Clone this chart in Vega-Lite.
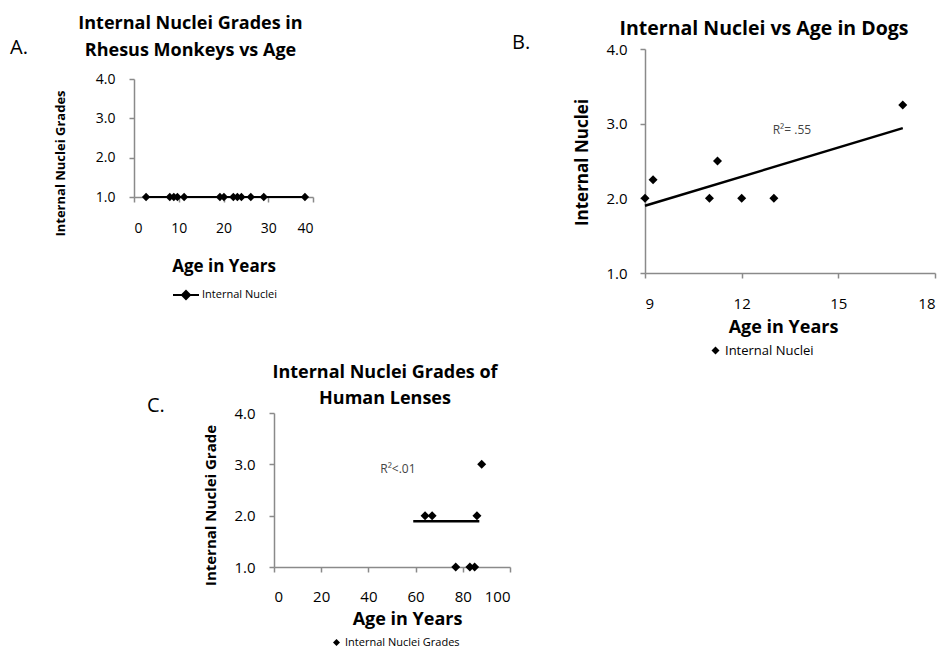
{
  "$schema": "https://vega.github.io/schema/vega-lite/v6.json",
  "background": "white",
  "padding": {"left": 10, "top": 15, "right": 5, "bottom": 0},
  "datasets": {
    "monkeys": [
      {"age": 2.7, "grade": 1, "series": "Internal Nuclei"},
      {"age": 8.0, "grade": 1, "series": "Internal Nuclei"},
      {"age": 8.9, "grade": 1, "series": "Internal Nuclei"},
      {"age": 9.7, "grade": 1, "series": "Internal Nuclei"},
      {"age": 11.2, "grade": 1, "series": "Internal Nuclei"},
      {"age": 19.2, "grade": 1, "series": "Internal Nuclei"},
      {"age": 20.1, "grade": 1, "series": "Internal Nuclei"},
      {"age": 22.2, "grade": 1, "series": "Internal Nuclei"},
      {"age": 23.1, "grade": 1, "series": "Internal Nuclei"},
      {"age": 24.0, "grade": 1, "series": "Internal Nuclei"},
      {"age": 26.1, "grade": 1, "series": "Internal Nuclei"},
      {"age": 29.0, "grade": 1, "series": "Internal Nuclei"},
      {"age": 38.2, "grade": 1, "series": "Internal Nuclei"}
    ],
    "dogs": [
      {"age": 9, "grade": 2.0, "series": "Internal Nuclei"},
      {"age": 9.25, "grade": 2.25, "series": "Internal Nuclei"},
      {"age": 11, "grade": 2.0, "series": "Internal Nuclei"},
      {"age": 11.25, "grade": 2.5, "series": "Internal Nuclei"},
      {"age": 12, "grade": 2.0, "series": "Internal Nuclei"},
      {"age": 13, "grade": 2.0, "series": "Internal Nuclei"},
      {"age": 17, "grade": 3.25, "series": "Internal Nuclei"}
    ],
    "dogsTrend": [
      {"age": 9, "grade": 1.9},
      {"age": 17, "grade": 2.94}
    ],
    "dogsNote": [
      {"age": 13.56, "grade": 2.92, "label": "R²= .55"}
    ],
    "humans": [
      {"age": 64, "grade": 2, "series": "Internal Nuclei Grades"},
      {"age": 67, "grade": 2, "series": "Internal Nuclei Grades"},
      {"age": 77, "grade": 1, "series": "Internal Nuclei Grades"},
      {"age": 83, "grade": 1, "series": "Internal Nuclei Grades"},
      {"age": 85, "grade": 1, "series": "Internal Nuclei Grades"},
      {"age": 86, "grade": 2, "series": "Internal Nuclei Grades"},
      {"age": 88, "grade": 3, "series": "Internal Nuclei Grades"}
    ],
    "humansTrend": [
      {"age": 59, "grade": 1.89},
      {"age": 87, "grade": 1.89}
    ],
    "humansNote": [
      {"age": 52.5, "grade": 2.915, "label": "R²<.01"}
    ]
  },
  "vconcat": [
    {
      "hconcat": [
        {
          "title": {"text": "A.", "anchor": "start", "frame": "group", "fontSize": 20, "fontWeight": "normal", "dx": -124, "dy": 43, "offset": 0},
          "vconcat": [
            {"width": 179, "height": 30, "data": {"values": []}, "mark": "point"},
            {
              "width": 179,
              "height": 118,
              "title": {"text": ["Internal Nuclei Grades in", "Rhesus Monkeys vs Age"], "fontSize": 18, "lineHeight": 27, "dx": -33, "offset": 12},
              "data": {"name": "monkeys"},
              "encoding": {
                "x": {"field": "age", "type": "quantitative", "scale": {"domain": [0, 40], "nice": false, "zero": false},
                  "axis": {"values": [0, 10, 20, 30, 40], "title": "Age in Years", "titleX": 89.5, "titleY": 69, "labelPadding": 19, "labelFontSize": 14, "titleFontSize": 17}},
                "y": {"field": "grade", "type": "quantitative", "scale": {"domain": [1, 4], "nice": false, "zero": false},
                  "axis": {"values": [1, 2, 3, 4], "format": ".1f", "title": "Internal Nuclei Grades", "titleX": -74, "titleY": 84, "labelPadding": 14, "labelFontSize": 14, "titleFontSize": 13}}
              },
              "layer": [
                {"mark": {"type": "line", "color": "black", "strokeWidth": 2}},
                {"mark": {"type": "point", "shape": "diamond", "filled": true, "size": 70, "opacity": 1},
                  "encoding": {"color": {"field": "series", "type": "nominal", "scale": {"range": ["black"]},
                    "legend": {"title": null, "orient": "none", "legendX": 38, "legendY": 232, "padding": 0,
                      "symbolType": "M-1,0L1,0M0,-0.31L0.31,0L0,0.31L-0.31,0Z", "symbolSize": 676, "symbolStrokeWidth": 2,
                      "symbolStrokeColor": "black", "symbolFillColor": "black", "symbolOpacity": 1, "labelFontSize": 11, "labelOffset": 2}}}}
              ]
            }
          ],
          "spacing": 0,
          "bounds": "flush"
        },
        {
          "title": {"text": "B.", "anchor": "start", "frame": "group", "fontSize": 20, "fontWeight": "normal", "dx": -133, "dy": 34, "offset": 0},
          "vconcat": [
            {
              "width": 290,
              "height": 224,
              "title": {"text": "Internal Nuclei vs Age in Dogs", "fontSize": 19.5, "dx": -26, "offset": 3},
              "encoding": {
                "x": {"field": "age", "type": "quantitative", "scale": {"domain": [9, 18], "nice": false, "zero": false},
                  "axis": {"values": [9, 12, 15, 18], "title": "Age in Years", "titleX": 138, "titleY": 54, "labelPadding": 18, "labelFontSize": 15, "titleFontSize": 18}},
                "y": {"field": "grade", "type": "quantitative", "scale": {"domain": [1, 4], "nice": false, "zero": false},
                  "axis": {"values": [1, 2, 3, 4], "format": ".1f", "title": "Internal Nuclei", "titleX": -63, "titleY": 113, "labelPadding": 13, "labelFontSize": 15, "titleFontSize": 17}}
              },
              "layer": [
                {"data": {"name": "dogsTrend"}, "mark": {"type": "line", "color": "black", "strokeWidth": 2.5}},
                {"data": {"name": "dogs"}, "mark": {"type": "point", "shape": "diamond", "filled": true, "size": 81, "opacity": 1},
                  "encoding": {"color": {"field": "series", "type": "nominal", "scale": {"range": ["black"]},
                    "legend": {"title": null, "orient": "none", "legendX": 64, "legendY": 295, "padding": 0,
                      "symbolType": "diamond", "symbolSize": 64, "symbolOpacity": 1, "labelFontSize": 13, "labelOffset": 3}}}},
                {"data": {"name": "dogsNote"}, "mark": {"type": "text", "fontSize": 12, "color": "#444"},
                  "encoding": {"text": {"field": "label"}}}
              ]
            }
          ],
          "bounds": "flush"
        }
      ],
      "spacing": 511,
      "bounds": "flush",
      "resolve": {"scale": {"x": "independent", "y": "independent", "color": "independent"}, "legend": {"color": "independent"}}
    },
    {
      "title": {"text": "C.", "anchor": "start", "frame": "group", "fontSize": 20, "fontWeight": "normal", "dx": 13, "dy": 52, "offset": 0},
      "hconcat": [
        {"width": 140, "height": 154, "data": {"values": []}, "mark": "point"},
        {
          "width": 236,
          "height": 154,
          "title": {"text": ["Internal Nuclei Grades of", "Human Lenses"], "fontSize": 18, "lineHeight": 26, "dx": -7, "offset": -2},
          "encoding": {
            "x": {"field": "age", "type": "quantitative", "scale": {"domain": [0, 100], "nice": false, "zero": false},
              "axis": {"values": [0, 20, 40, 60, 80, 100], "title": "Age in Years", "titleX": 133, "titleY": 52, "labelPadding": 17, "labelFontSize": 15, "titleFontSize": 18}},
            "y": {"field": "grade", "type": "quantitative", "scale": {"domain": [1, 4], "nice": false, "zero": false},
              "axis": {"values": [1, 2, 3, 4], "format": ".1f", "title": "Internal Nuclei Grade", "titleX": -64, "titleY": 92, "labelPadding": 14, "labelFontSize": 15, "titleFontSize": 15}}
          },
          "layer": [
            {"data": {"name": "humansTrend"}, "mark": {"type": "line", "color": "black", "strokeWidth": 2.5}},
            {"data": {"name": "humans"}, "mark": {"type": "point", "shape": "diamond", "filled": true, "size": 81, "opacity": 1},
              "encoding": {"color": {"field": "series", "type": "nominal", "scale": {"range": ["black"]},
                "legend": {"title": null, "orient": "none", "legendX": 197, "legendY": 224, "padding": 0,
                  "symbolType": "diamond", "symbolSize": 49, "symbolOpacity": 1, "labelFontSize": 11, "labelOffset": 3}}}},
            {"data": {"name": "humansNote"}, "mark": {"type": "text", "fontSize": 12, "color": "#444"},
              "encoding": {"text": {"field": "label"}}}
          ]
        }
      ],
      "spacing": 0,
      "bounds": "flush"
    }
  ],
  "spacing": 364,
  "bounds": "flush",
  "resolve": {"scale": {"x": "independent", "y": "independent", "color": "independent"}, "legend": {"color": "independent"}},
  "config": {
    "font": "Open Sans",
    "view": {"stroke": null},
    "axis": {"grid": false, "domainColor": "#8a8a8a", "tickColor": "#8a8a8a", "domainWidth": 1.5, "tickWidth": 1.5, "tickSize": 5,
      "labelColor": "#000", "titleColor": "#000", "labelFont": "Open Sans", "titleFont": "Open Sans", "titleFontWeight": "bold", "titleBaseline": "middle"},
    "title": {"fontWeight": "bold", "color": "#000", "anchor": "middle", "frame": "group", "font": "Open Sans"},
    "legend": {"labelColor": "#000", "labelFont": "Open Sans"}
  }
}
